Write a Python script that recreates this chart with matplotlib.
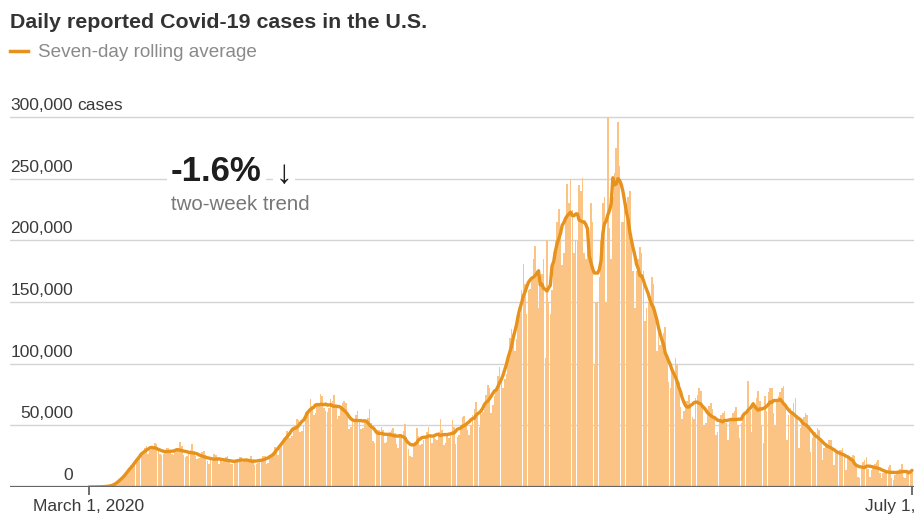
import matplotlib
matplotlib.use("Agg")
import matplotlib.pyplot as plt
import matplotlib.dates as mdates
from matplotlib.transforms import blended_transform_factory, offset_copy
import numpy as np
import pandas as pd

plt.rcParams['font.family'] = ['Liberation Sans', 'DejaVu Sans']

# ---------------- data (daily reported cases, thousands, weeks start on Sunday) ----------------
start_date = "2020-03-01"
daily_cases_k = [
    0.0, 0.0, 0.0, 0.1, 0.1, 0.1, 0.1,
    0.1, 0.2, 0.3, 0.4, 0.5, 0.6, 0.9,
    1.0, 1.6, 2.5, 3.5, 5.0, 6.5, 8.0,
    9.5, 10.5, 11.5, 13.5, 17.5, 19.5, 19.5,
    20.0, 22.0, 25.0, 26.5, 29.0, 32.0, 33.5,
    27.0, 30.0, 31.5, 32.5, 35.5, 35.0, 31.0,
    27.0, 26.0, 26.5, 29.0, 31.5, 32.0, 29.5,
    27.0, 26.0, 28.0, 29.5, 32.0, 36.5, 33.0,
    26.0, 24.0, 25.0, 27.5, 30.0, 35.0, 29.0,
    25.0, 23.0, 23.5, 25.0, 28.0, 29.0, 26.0,
    21.0, 19.0, 21.5, 21.0, 27.0, 26.0, 24.0,
    19.0, 21.0, 20.5, 22.5, 24.0, 25.0, 21.5,
    19.0, 18.5, 19.5, 20.5, 22.5, 24.0, 24.0,
    20.0, 21.0, 21.5, 20.0, 22.0, 25.0, 22.5,
    17.5, 18.5, 19.5, 22.0, 23.0, 25.5, 25.0,
    19.0, 19.5, 23.5, 25.5, 27.5, 32.5, 30.5,
    26.0, 31.5, 35.5, 37.5, 39.5, 45.5, 43.0,
    40.0, 41.5, 47.5, 50.5, 55.0, 54.5, 45.0,
    45.5, 50.0, 60.5, 62.0, 62.5, 71.0, 66.0,
    58.5, 60.0, 66.5, 68.0, 75.5, 73.5, 64.0,
    62.0, 60.5, 64.0, 71.5, 69.5, 74.5, 66.0,
    55.0, 57.5, 66.0, 68.5, 70.0, 68.5, 57.0,
    47.0, 48.5, 54.0, 53.5, 58.5, 62.0, 54.0,
    47.0, 48.0, 55.0, 52.5, 56.0, 63.5, 52.0,
    37.5, 36.0, 45.0, 46.5, 46.0, 48.5, 46.0,
    36.0, 36.5, 42.0, 44.5, 46.0, 48.0, 44.0,
    35.0, 32.0, 41.0, 43.0, 45.5, 51.5, 40.5,
    31.0, 25.0, 24.0, 34.0, 36.5, 48.0, 41.0,
    34.0, 35.0, 38.5, 40.0, 44.5, 49.0, 42.0,
    36.0, 40.0, 39.0, 38.5, 44.5, 55.0, 46.0,
    34.0, 35.5, 43.0, 39.5, 45.0, 54.5, 49.0,
    35.0, 40.5, 42.5, 50.5, 56.5, 57.5, 52.0,
    46.0, 42.5, 50.5, 58.5, 63.5, 69.0, 58.0,
    48.5, 59.0, 60.5, 63.0, 75.0, 83.0, 80.0,
    60.0, 66.5, 73.5, 78.5, 90.0, 97.5, 85.0,
    80.0, 88.0, 91.5, 103.0, 120.5, 128.0, 124.5,
    110.0, 120.0, 139.0, 140.5, 160.0, 180.5, 165.0,
    140.0, 160.0, 160.5, 170.0, 185.0, 195.5, 175.0,
    145.0, 170.0, 172.5, 185.0, 105.0, 200.0, 150.0,
    140.0, 160.0, 190.5, 200.0, 215.0, 225.5, 210.0,
    180.0, 190.0, 220.0, 245.5, 230.0, 250.0, 225.0,
    190.0, 200.0, 200.5, 245.0, 240.0, 250.5, 190.0,
    185.0, 195.0, 200.0, 230.0, 215.0, 100.0, 150.0,
    150.0, 170.0, 200.0, 230.0, 235.0, 150.0, 300.0,
    210.0, 185.0, 235.0, 255.0, 275.0, 296.0, 260.0,
    215.0, 215.0, 225.0, 230.0, 235.0, 240.0, 200.0,
    175.0, 145.0, 175.0, 185.0, 195.0, 190.0, 175.0,
    135.0, 145.0, 150.0, 155.0, 170.0, 165.0, 140.0,
    110.0, 130.0, 115.0, 120.0, 125.0, 130.0, 105.0,
    85.0, 80.0, 95.0, 95.0, 105.0, 100.0, 85.0,
    65.0, 55.0, 62.0, 70.0, 70.0, 75.0, 65.0,
    57.0, 55.0, 72.0, 75.0, 80.0, 78.0, 65.0,
    50.0, 52.0, 58.0, 66.0, 68.0, 63.0, 56.0,
    42.0, 45.0, 55.0, 58.0, 60.0, 62.0, 52.0,
    38.0, 53.0, 54.0, 60.0, 62.0, 65.0, 50.0,
    40.0, 52.0, 56.0, 60.0, 62.0, 86.0, 62.0,
    45.0, 66.0, 64.0, 72.0, 78.0, 70.0, 50.0,
    36.0, 74.0, 62.0, 77.0, 80.0, 80.0, 60.0,
    50.0, 70.0, 74.0, 77.0, 80.0, 82.0, 65.0,
    38.0, 58.0, 64.0, 62.0, 68.0, 72.0, 58.0,
    32.0, 48.0, 55.0, 57.0, 60.0, 58.0, 48.0,
    28.0, 40.0, 45.0, 45.0, 48.0, 46.0, 38.0,
    22.0, 32.0, 36.0, 35.0, 38.0, 38.0, 30.0,
    18.0, 28.0, 29.0, 30.0, 30.0, 32.0, 26.0,
    14.0, 24.0, 25.0, 24.0, 26.0, 25.0, 18.0,
    8.0, 7.0, 15.0, 20.0, 22.0, 24.0, 15.0,
    8.0, 14.0, 16.0, 19.0, 20.0, 22.0, 11.0,
    7.0, 11.0, 13.0, 14.0, 16.0, 18.0, 7.0,
    6.0, 10.0, 12.0, 14.0, 15.0, 19.0, 8.0,
    7.0, 12.0, 13.0, 14.0, 15.0,
]
ytick_values = [0, 50000, 100000, 150000, 200000, 250000, 300000]
ytick_labels = ["0", "50,000", "100,000", "150,000", "200,000", "250,000", "300,000"]
xtick_dates = ["2020-03-01", "2021-07-01"]
xtick_labels = ["March 1, 2020", "July 1, 2021"]
title = "Daily reported Covid-19 cases in the U.S."
legend_label = "Seven-day rolling average"
trend_value = "-1.6%"
trend_label = "two-week trend"

# ---------------- derived ----------------
dates = pd.date_range(start_date, periods=len(daily_cases_k), freq="D")
cases = pd.Series(np.array(daily_cases_k) * 1000.0, index=dates)
rolling_avg = cases.rolling(7, center=True, min_periods=1).mean()

BAR = "#FCC484"
LINE = "#E6921C"

W, H = 914, 518
fig = plt.figure(figsize=(W / 100, H / 100), dpi=100)
ax = fig.add_axes([10 / W, (H - 487) / H, 904 / W, (487 - 111) / H])

x0 = mdates.date2num(pd.Timestamp(xtick_dates[0]))
x1 = mdates.date2num(pd.Timestamp(xtick_dates[1]))
days_per_px = (x1 - x0) / (912 - 89)
ax.set_xlim(x0 - (89 - 10) * days_per_px, x1 + (914 - 912) * days_per_px)
ax.set_ylim(0, 305000)

# gridlines
for v in ytick_values[1:]:
    ax.axhline(v, color="#d4d4d4", lw=1.0, zorder=0.5)

ax.bar(dates, cases.values, width=0.92, color=BAR, linewidth=0, zorder=1)
ax.plot(dates, rolling_avg.values, color=LINE, lw=2.4, zorder=3,
        solid_joinstyle="round", solid_capstyle="round")

ax.axhline(0, color="#666666", lw=1.6, zorder=4)

for s in ax.spines.values():
    s.set_visible(False)
ax.set_yticks([])
ax.set_xticks([mdates.date2num(pd.Timestamp(d)) for d in xtick_dates])
ax.set_xticklabels(xtick_labels)
ax.tick_params(axis="x", length=6, width=1.2, color="#555555", labelsize=12.5,
               labelcolor="#3a3a3a", pad=2.5)

# y labels above gridlines, right-aligned
ytrans = offset_copy(blended_transform_factory(ax.transAxes, ax.transData),
                     fig=fig, y=7, units="dots")
xlab = (73 - 10) / 904
for v, lab in zip(ytick_values, ytick_labels):
    ax.text(xlab, v, lab, transform=ytrans, ha="right", va="baseline",
            fontsize=12.5, color="#3a3a3a")
ax.text(xlab + 4 / 904, ytick_values[-1], "cases", transform=ytrans, ha="left",
        va="baseline", fontsize=12.5, color="#3a3a3a")

# title and legend
fig.text(10 / W, 1 - 28 / H, title, fontsize=15.4, fontweight="bold",
         color="#333333", ha="left", va="baseline")
fig.add_artist(plt.Line2D([10 / W, 28 / W], [1 - 51 / H, 1 - 51 / H],
                          color=LINE, lw=2.5))
fig.text(38 / W, 1 - 57 / H, legend_label, fontsize=13.6, color="#8a8a8a",
         ha="left", va="baseline")

# trend annotation
fig.text(171 / W, 1 - 181 / H, trend_value, fontsize=25, fontweight="bold",
         color="#1e1e1e", ha="left", va="baseline",
         bbox=dict(facecolor="white", edgecolor="none", pad=3), zorder=5)
fig.text(276 / W, 1 - 183 / H, "\u2193", fontsize=24, color="#1e1e1e",
         ha="left", va="baseline",
         bbox=dict(facecolor="white", edgecolor="none", pad=2), zorder=5)
fig.text(171 / W, 1 - 210 / H, trend_label, fontsize=14.8, color="#777777",
         ha="left", va="baseline")

fig.savefig("out.png", dpi=100)
